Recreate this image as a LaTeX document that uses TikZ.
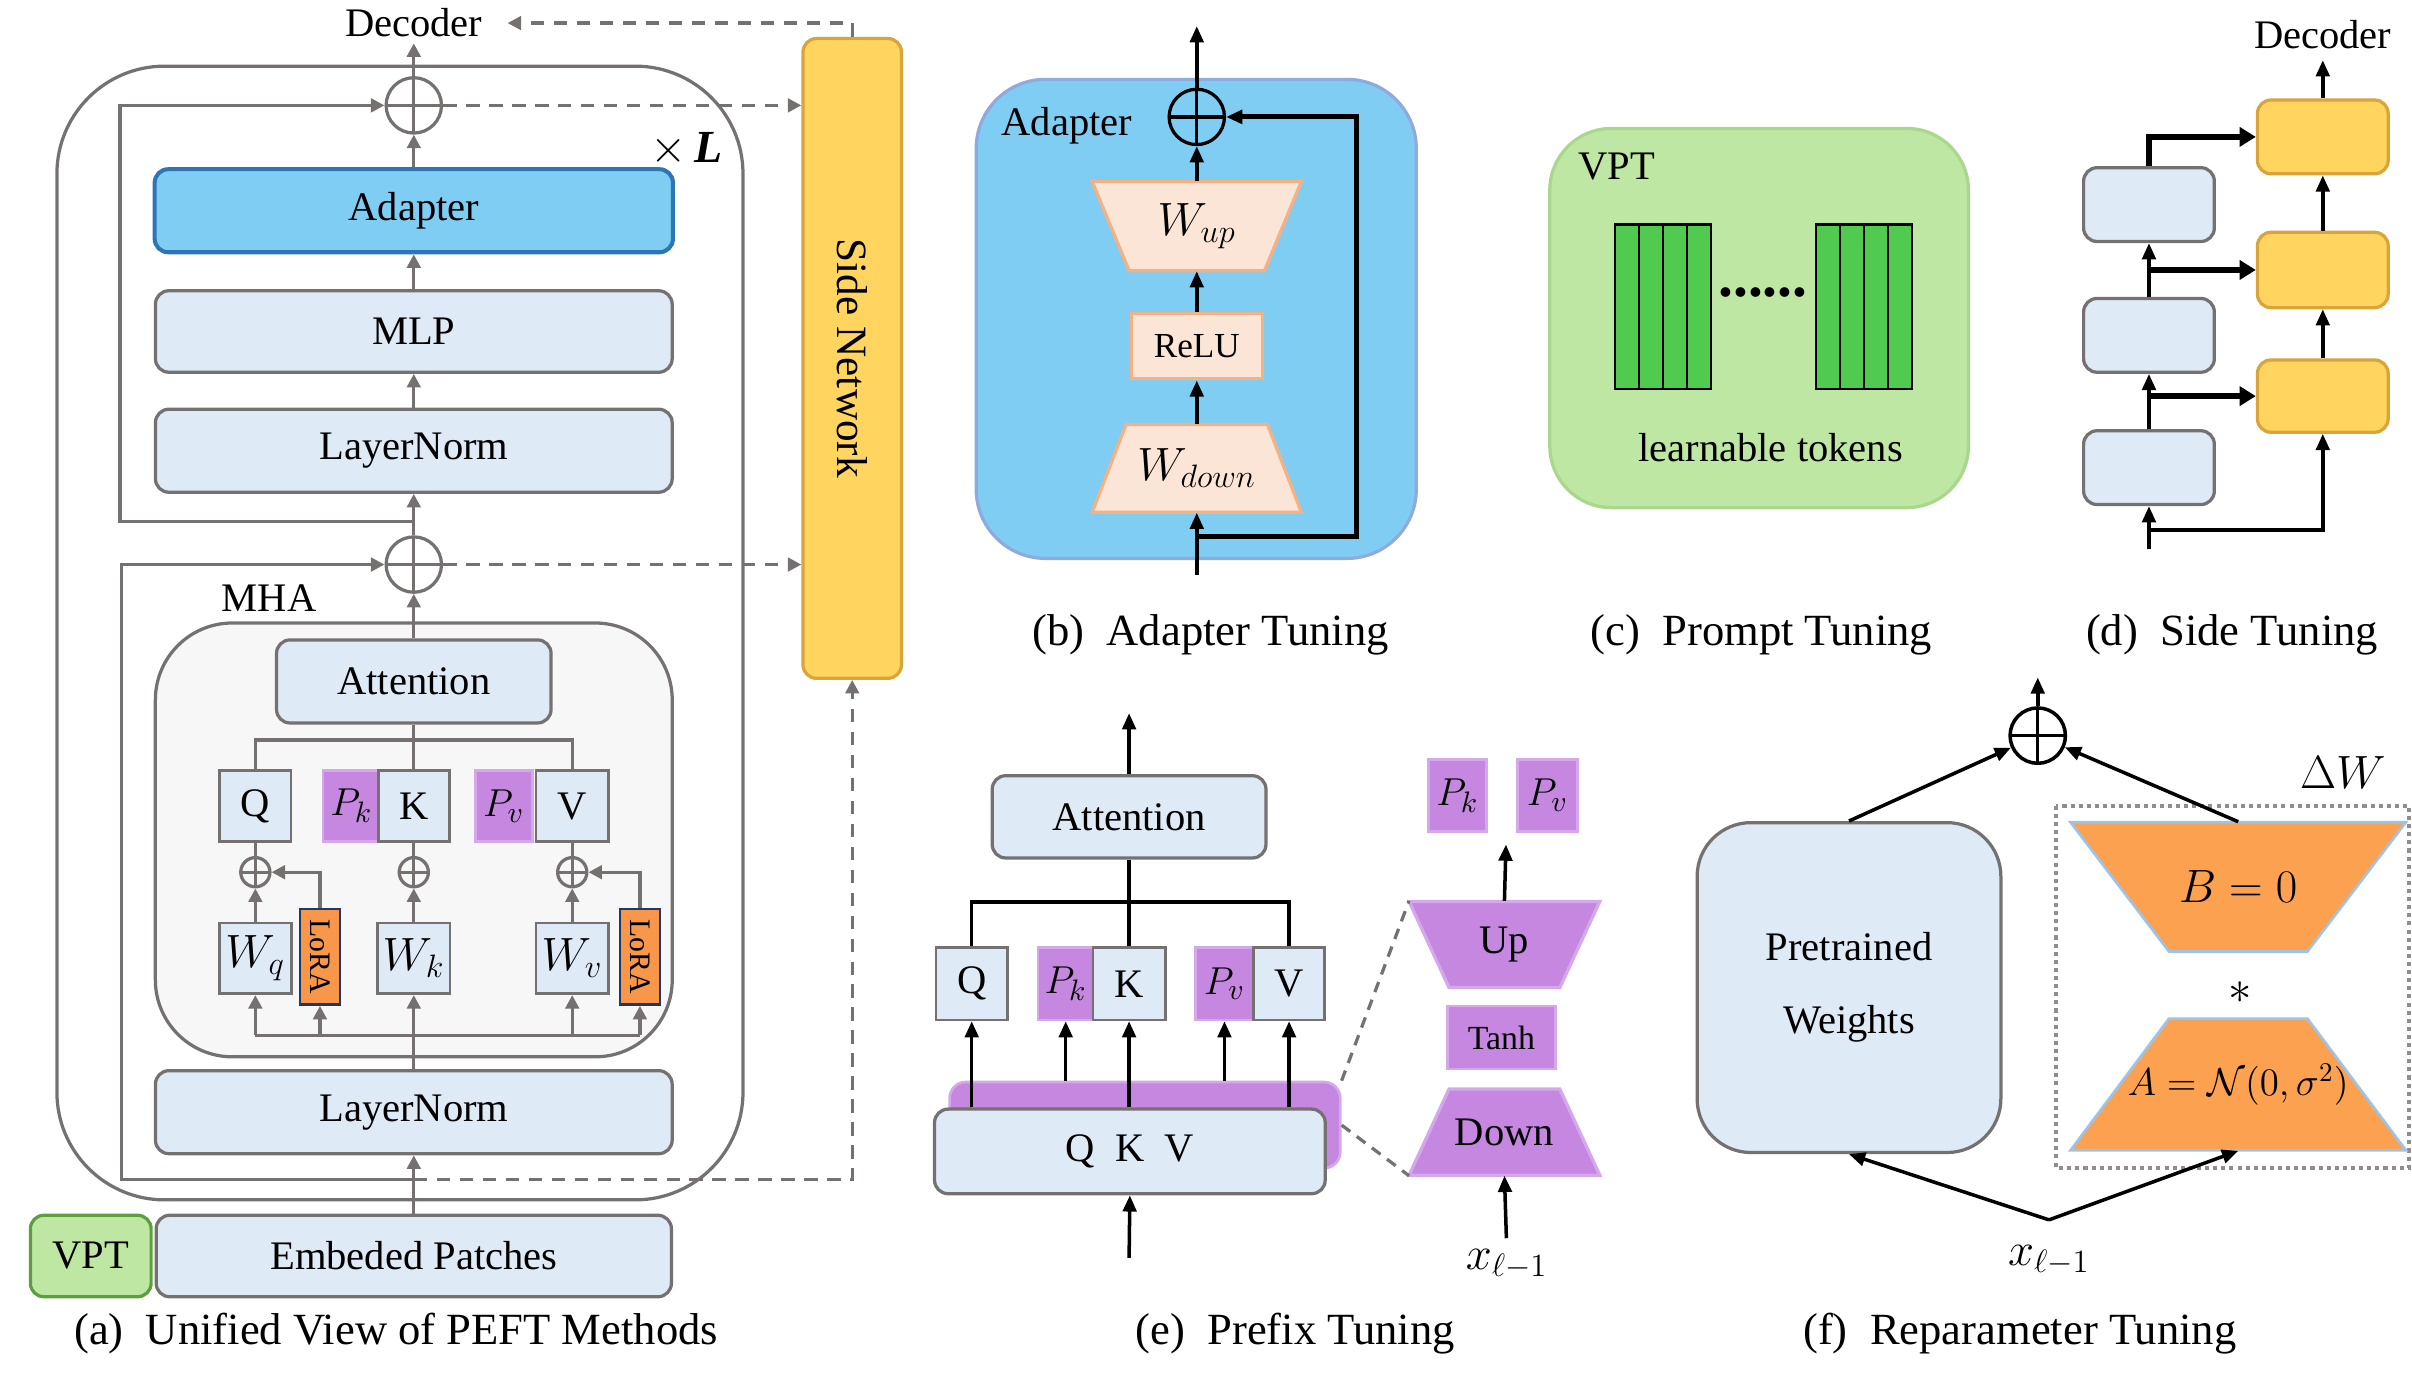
\documentclass[tikz,border=0pt]{standalone}
\usepackage{fontspec}
\setmainfont{Liberation Serif}
\usetikzlibrary{arrows.meta,calc}

\definecolor{linegray}{HTML}{767171}
\definecolor{boxblue}{HTML}{DEEAF6}
\definecolor{adapterblue}{HTML}{7FCDF3}
\definecolor{adapteredge}{HTML}{2E75B6}
\definecolor{panelblue}{HTML}{80CDF4}
\definecolor{paneledge}{HTML}{8FAADC}
\definecolor{prefix}{HTML}{C587E0}
\definecolor{prefixedge}{HTML}{D4A8EA}
\definecolor{lorafill}{HTML}{F8974A}
\definecolor{loraedge}{HTML}{1F3864}
\definecolor{sidefill}{HTML}{FFD45F}
\definecolor{sideedge}{HTML}{D9A53A}
\definecolor{vptfill}{HTML}{BEE7A3}
\definecolor{vptedge}{HTML}{5E9E3F}
\definecolor{vptlight}{HTML}{A9D78B}
\definecolor{tokenfill}{HTML}{50CB50}
\definecolor{peach}{HTML}{FBE5D6}
\definecolor{peachedge}{HTML}{F4B183}
\definecolor{deltafill}{HTML}{FBA150}
\definecolor{deltaedge}{HTML}{9DC3E6}
\definecolor{mhafill}{HTML}{F7F7F7}

% trapezoid with a named text node in its middle
% #1 name, #2 x, #3 y, #4 top half width, #5 bottom half width, #6 half height, #7 style, #8 text
\newcommand{\trapnode}[8]{%
    \filldraw[#7] (#2-#4,#3-#6) -- (#2+#4,#3-#6) -- (#2+#5,#3+#6) -- (#2-#5,#3+#6) -- cycle;
    \node[lbl, minimum height=#6*0.04cm] (#1) at (#2,#3) {#8};
}

\begin{document}
\begin{tikzpicture}[
    x=0.02cm, y=-0.02cm,
    lbl/.style={inner sep=0pt, font=\fontsize{15}{18}\selectfont},
    captxt/.style={inner sep=0pt, font=\fontsize{16.5}{20}\selectfont},
    blk/.style={lbl, draw=linegray, fill=boxblue, line width=1.2pt, rounded corners=5pt},
    cell/.style={lbl, draw=linegray, fill=boxblue, line width=1pt, minimum height=0.92cm},
    pfx/.style={lbl, draw=prefixedge, fill=prefix, line width=1pt, minimum height=0.92cm},
    lora/.style={inner sep=0pt, font=\fontsize{11}{13}\selectfont, draw=loraedge, fill=lorafill, line width=1pt, minimum width=0.52cm, minimum height=1.24cm},
    oplus/.style={circle, draw=#1, line width=1.2pt, inner sep=0pt, minimum size=0.72cm,
        path picture={\draw[#1, line width=1.2pt] (path picture bounding box.north) -- (path picture bounding box.south)
            (path picture bounding box.west) -- (path picture bounding box.east);}},
    gline/.style={draw=linegray, line width=1.2pt},
    garrow/.style={gline, -{Triangle[length=5pt,width=5pt]}},
    darrow/.style={gline, dash pattern=on 5pt off 3.5pt, -{Triangle[length=5pt,width=5pt]}},
    gdash/.style={gline, dash pattern=on 4pt off 3pt},
    bline/.style={draw=black, line width=1.3pt},
    barrow/.style={bline, -{Triangle[length=6pt,width=5pt]}},
    harrow/.style={draw=black, line width=2pt, -{Triangle[length=6pt,width=7pt]}},
    peachtrap/.style={fill=peach, draw=peachedge, line width=1.2pt},
    pfxtrap/.style={fill=prefix, draw=prefixedge, line width=1.2pt},
    deltatrap/.style={fill=deltafill, draw=deltaedge, line width=1pt}
]
    \useasboundingbox (0,0) rectangle (1568,896);

    % (a) unified view
    \draw[gline, rounded corners=1.4cm] (37,43) rectangle (483,780);
    \draw[gline, fill=mhafill, rounded corners=1cm] (101,405) rectangle (437,687);
    \node[lbl] (mhaA) at (175,389) {MHA};
    \node[lbl, font=\fontsize{17}{20}\selectfont] (timesL) at (446,97) {$\times$\,\textbf{\textit{L}}};

    \node[lbl] (decA) at (269,15) {Decoder};
    \node[oplus=linegray] (plusA1) at (269,68.5) {};
    \node[blk, fill=adapterblue, draw=adapteredge, line width=1.5pt, minimum width=6.74cm, minimum height=1.08cm] (adaA) at (269,137) {Adapter};
    \node[blk, minimum width=6.72cm, minimum height=1.06cm] (mlpA) at (269,215.5) {MLP};
    \node[blk, minimum width=6.72cm, minimum height=1.08cm] (lnTopA) at (269,293) {LayerNorm};
    \node[oplus=linegray] (plusA2) at (269,367) {};
    \node[blk, minimum width=3.57cm, minimum height=1.08cm] (attnA) at (269,443) {Attention};

    \node[cell, minimum width=0.93cm] (qA) at (166,524) {Q};
    \node[pfx, minimum width=0.74cm] (pkA) at (228.5,524) {$P_k$};
    \node[cell, minimum width=0.92cm] (kA) at (269,524) {K};
    \node[pfx, minimum width=0.74cm] (pvA) at (327.5,524) {$P_v$};
    \node[cell, minimum width=0.94cm] (vA) at (372,524) {V};

    \node[oplus=linegray, minimum size=0.38cm] (sumQ) at (166,567) {};
    \node[oplus=linegray, minimum size=0.38cm] (sumK) at (269,567) {};
    \node[oplus=linegray, minimum size=0.38cm] (sumV) at (372,567) {};

    \node[cell, minimum width=0.94cm, font=\fontsize{16.5}{18}\selectfont] (wqA) at (166,623) {$W_q$};
    \node[lora] (loraA) at (208,622) {\rotatebox{-90}{LoRA}};
    \node[cell, minimum width=0.94cm, font=\fontsize{16.5}{18}\selectfont] (wkA) at (269,623) {$W_k$};
    \node[cell, minimum width=0.94cm, font=\fontsize{16.5}{18}\selectfont] (wvA) at (372,623) {$W_v$};
    \node[lora] (loraB) at (416,622) {\rotatebox{-90}{LoRA}};

    \node[blk, minimum width=6.72cm, minimum height=1.08cm] (lnBotA) at (269,723) {LayerNorm};
    \node[blk, minimum width=6.7cm, minimum height=1.06cm] (embA) at (269,816.5) {Embeded Patches};
    \node[blk, fill=vptfill, draw=vptedge, minimum width=1.57cm, minimum height=1.06cm] (vptA) at (59,816.5) {VPT};

    \node[blk, fill=sidefill, draw=sideedge, minimum width=1.28cm, minimum height=8.32cm] (sideA) at (554,233) {};
    \node[lbl, font=\fontsize{16}{19}\selectfont] (sideTxt) at (sideA) {\rotatebox{-90}{Side Network}};

    \coordinate (skipA1) at (269,339);
    \coordinate (skipA2) at (269,767);
    \coordinate (barA) at (269,481);
    \coordinate (distA) at (269,673);

    \draw[garrow] (embA.north) -- (lnBotA.south);
    \draw[garrow] (lnBotA.north) -- (wkA.south);
    \draw[gline] (wqA.south |- distA) -- (loraB.south |- distA);
    \foreach \n in {wqA,loraA,wvA,loraB}
        \draw[garrow] (\n.south |- distA) -- (\n.south);
    \draw[garrow] (wqA.north) -- (sumQ.south);
    \draw[garrow] (wkA.north) -- (sumK.south);
    \draw[garrow] (wvA.north) -- (sumV.south);
    \draw[garrow] (loraA.north) |- (sumQ.east);
    \draw[garrow] (loraB.north) |- (sumV.east);
    \draw[gline] (sumQ.north) -- (qA.south);
    \draw[gline] (sumK.north) -- (kA.south);
    \draw[gline] (sumV.north) -- (vA.south);
    \draw[gline] (qA.north) |- (barA) -| (vA.north);
    \draw[gline] (attnA.south) -- (kA.north);
    \draw[garrow] (attnA.north) -- (plusA2.south);
    \draw[garrow] (plusA2.north) -- (lnTopA.south);
    \draw[garrow] (lnTopA.north) -- (mlpA.south);
    \draw[garrow] (mlpA.north) -- (adaA.south);
    \draw[garrow] (adaA.north) -- (plusA1.south);
    \draw[garrow, shorten >=2pt] (plusA1.north) -- (decA.south);
    \draw[garrow] (skipA1) -- (78,339) |- (plusA1.west);
    \draw[garrow] (skipA2) -- (79,767) |- (plusA2.west);

    \draw[darrow] (plusA1.east) -- (sideA.west |- plusA1.east);
    \draw[darrow] (plusA2.east) -- (sideA.west |- plusA2.east);
    \draw[darrow] (skipA2) -| (sideA.south);
    \draw[darrow, shorten >=0.32cm] (sideA.north) |- (decA.east);

    \node[captxt] (capA) at (257.5,867) {(a)~~Unified View of PEFT Methods};

    % (b) adapter tuning
    \draw[fill=panelblue, draw=paneledge, line width=1.2pt, rounded corners=0.9cm] (634.6,51.6) rectangle (920.7,363);
    \node[lbl] (adaLbl) at (693.5,81.8) {Adapter};
    \node[oplus=black] (plusB) at (778,76) {};
    \trapnode{wupB}{778}{147}{68}{44}{29}{peachtrap}{\fontsize{18}{20}\selectfont$W_{up}$}
    \node[lbl, fill=peach, draw=peachedge, line width=1.2pt, minimum width=1.7cm, minimum height=0.85cm, font=\fontsize{13}{15}\selectfont] (reluB) at (778,225) {ReLU};
    \trapnode{wdownB}{778}{304.5}{46}{68}{28.5}{peachtrap}{\fontsize{18}{20}\selectfont$W_{down}$}
    \coordinate (inB) at (778,373.5);
    \coordinate (skipB) at (778,349);
    \coordinate (outB) at (778,17);
    \draw[barrow] (inB) -- (wdownB.south);
    \draw[barrow] (wdownB.north) -- (reluB.south);
    \draw[barrow] (reluB.north) -- (wupB.south);
    \draw[barrow] (wupB.north) -- (plusB.south);
    \draw[barrow] (plusB.north) -- (outB);
    \draw[barrow, line width=1.8pt] (skipB) -- (882,349) -- (882,76) -- (plusB.east);
    \node[captxt] (capB) at (787,413) {(b)~~Adapter Tuning};

    % (c) prompt tuning
    \draw[fill=vptfill, draw=vptlight, line width=1.2pt, rounded corners=0.8cm] (1007.5,83.5) rectangle (1279.6,330);
    \node[lbl] (vptLbl) at (1051,108.5) {VPT};
    \foreach \x in {1049.8,1180.5}
        \foreach \i in {0,...,3}
            \draw[fill=tokenfill, line width=0.9pt] (\x+\i*15.65,146) rectangle ++(15.65,107);
    \node[lbl, font=\bfseries\fontsize{22}{24}\selectfont] (dotsC) at (1146,190) {......};
    \node[lbl] (tokLbl) at (1151,291) {learnable tokens};
    \node[captxt] (capC) at (1145,413) {(c)~~Prompt Tuning};

    % (d) side tuning
    \node[lbl] (decD) at (1510,22.5) {Decoder};
    \node[blk, fill=sidefill, draw=sideedge, minimum width=1.7cm, minimum height=0.96cm] (side1) at (1510,89) {};
    \node[blk, fill=sidefill, draw=sideedge, minimum width=1.7cm, minimum height=0.98cm] (side2) at (1510,175.5) {};
    \node[blk, fill=sidefill, draw=sideedge, minimum width=1.7cm, minimum height=0.94cm] (side3) at (1510,257.5) {};
    \node[blk, minimum width=1.7cm, minimum height=0.96cm] (frz1) at (1397,133) {};
    \node[blk, minimum width=1.7cm, minimum height=0.96cm] (frz2) at (1397,218) {};
    \node[blk, minimum width=1.7cm, minimum height=0.96cm] (frz3) at (1397,304) {};
    \coordinate (inD) at (1397,356.6);
    \coordinate (skipD) at (1397,344.5);
    \draw[barrow, shorten >=4pt] (side1.north) -- (decD.south);
    \draw[barrow] (side2.north) -- (side1.south);
    \draw[barrow] (side3.north) -- (side2.south);
    \draw[barrow] (inD) -- (frz3.south);
    \draw[barrow] (frz3.north) -- (frz2.south);
    \draw[barrow] (frz2.north) -- (frz1.south);
    \draw[barrow] (skipD) -| (side3.south);
    \draw[harrow] (frz3.north |- side3.west) -- (side3.west);
    \draw[harrow] (frz2.north |- side2.west) -- (side2.west);
    \draw[harrow] (frz1.north) |- (side1.west);
    \node[captxt] (capD) at (1451,413) {(d)~~Side Tuning};

    % (e) prefix tuning
    \node[blk, minimum width=3.56cm, minimum height=1.07cm] (attnE) at (734,531) {Attention};
    \node[cell, minimum width=0.93cm, minimum height=0.94cm] (qE) at (631.7,639.5) {Q};
    \node[pfx, minimum width=0.72cm, minimum height=0.94cm] (pkE) at (692.8,639.5) {$P_k$};
    \node[cell, minimum width=0.94cm, minimum height=0.94cm] (kE) at (734,639.5) {K};
    \node[pfx, minimum width=0.75cm, minimum height=0.94cm] (pvE) at (796,639.5) {$P_v$};
    \node[cell, minimum width=0.93cm, minimum height=0.94cm] (vE) at (838,639.5) {V};
    \node[pfx, rounded corners=6pt, minimum width=5.08cm, minimum height=1.12cm] (pfxE) at (744.3,731.4) {};
    \node[blk, minimum width=5.08cm, minimum height=1.1cm] (qkvE) at (734.5,748.5) {Q~~K~~V};
    \coordinate (barE) at (734,586.4);
    \coordinate (outE) at (734,463.6);
    \coordinate (inE) at (734,817.7);
    \draw[barrow] (attnE.north) -- (outE);
    \draw[bline] (attnE.south) -- (kE.north);
    \draw[bline] (qE.north) |- (barE) -| (vE.north);
    \draw[barrow] (qkvE.north -| qE) -- (qE.south);
    \draw[barrow] (pfxE.north -| pkE) -- (pkE.south);
    \draw[barrow] (qkvE.north -| kE) -- (kE.south);
    \draw[barrow] (pfxE.north -| pvE) -- (pvE.south);
    \draw[barrow] (qkvE.north -| vE) -- (vE.south);
    \draw[barrow] (inE) -- (qkvE.south);

    \node[pfx, minimum width=0.76cm, minimum height=0.94cm] (pkTopE) at (947.5,517) {$P_k$};
    \node[pfx, minimum width=0.78cm, minimum height=0.94cm] (pvTopE) at (1006,517) {$P_v$};
    \trapnode{upE}{978}{614}{62}{36}{28}{pfxtrap}{Up}
    \node[pfx, minimum width=1.4cm, minimum height=0.82cm, font=\fontsize{12.5}{15}\selectfont] (tanhE) at (976,674.5) {Tanh};
    \trapnode{downE}{978}{736}{36}{62}{28}{pfxtrap}{Down}
    \node[lbl, font=\fontsize{18}{20}\selectfont] (xE) at (979.5,822) {$x_{\ell-1}$};
    \coordinate (outUpE) at (979,549);
    \draw[barrow] (upE.north) -- (outUpE);
    \draw[barrow, shorten <=4pt] (xE.north) -- (downE.south);
    \draw[gdash] (pfxE.north east) -- ($(upE.north)+(-62,0)$);
    \draw[gdash] (pfxE.east) -- ($(downE.south)+(-62,0)$);
    \node[captxt] (capE) at (842,867) {(e)~~Prefix Tuning};

    % (f) reparameter tuning
    \node[oplus=black, line width=1.3pt] (plusF) at (1324.7,478.2) {};
    \node[blk, rounded corners=0.7cm, minimum width=3.95cm, minimum height=4.29cm, align=center, font=\fontsize{15}{27}\selectfont] (pwF) at (1202,642) {Pretrained\\Weights};
    \draw[draw=linegray!80, line width=1.5pt, dash pattern=on 1.5pt off 1.5pt] (1336.6,523.8) rectangle (1566,759);
    \trapnode{bF}{1455}{576.5}{109}{45}{42}{deltatrap}{\fontsize{16}{18}\selectfont$B = 0$}
    \node[lbl, font=\fontsize{19}{20}\selectfont] (starF) at (1456,645) {$*$};
    \trapnode{aF}{1455}{705}{45}{109}{42.8}{deltatrap}{\fontsize{14}{16}\selectfont$A = \mathcal{N}(0,\sigma^2)$}
    \node[lbl, font=\fontsize{16}{18}\selectfont] (dwF) at (1523,502) {$\Delta W$};
    \node[lbl, font=\fontsize{18}{20}\selectfont] (xF) at (1332,819) {$x_{\ell-1}$};
    \coordinate (inF) at (1332,793);
    \coordinate (outF) at (1324.7,440.4);
    \draw[barrow] (plusF.north) -- (outF);
    \draw[barrow] (pwF.north) -- (plusF);
    \draw[barrow] (bF.north) -- (plusF);
    \draw[barrow] (inF) -- (pwF.south);
    \draw[barrow] (inF) -- (aF.south);
    \node[captxt] (capF) at (1313,867) {(f)~~Reparameter Tuning};
\end{tikzpicture}
\end{document}
